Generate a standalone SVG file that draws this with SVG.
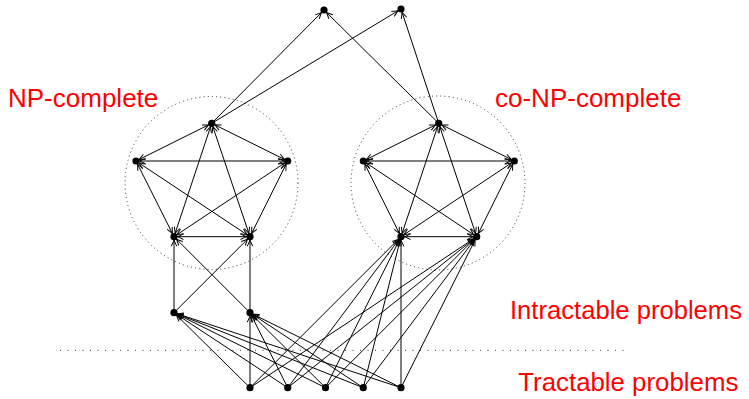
<svg xmlns="http://www.w3.org/2000/svg" width="749" height="399" viewBox="0 0 749 399">
  <style>
    .edge { stroke: #000; stroke-width: 1; fill: none; }
    .dot { fill: #000; }
    .ring { fill: none; stroke: #333; stroke-width: 1; stroke-dasharray: 1 3.2; }
    .sep { stroke: #333; stroke-width: 1; stroke-dasharray: 1 6.5; }
    .lbl { font-family: "Liberation Sans", Arial, sans-serif; font-size: 26px; fill: #ff0000; }
  </style>
  <defs>
    <marker id="arr" markerUnits="userSpaceOnUse" markerWidth="14" markerHeight="14" refX="3.6" refY="0" orient="auto-start-reverse" overflow="visible">
      <path d="M-6,-2.8 L0,0 L-6,2.8" fill="none" stroke="#000" stroke-width="1"/>
    </marker>
  </defs>

  <!-- class boundaries -->
  <g id="regions">
    <circle class="ring" cx="211.5" cy="183" r="86.5"/>
    <circle class="ring" cx="438" cy="183" r="87"/>
    <line class="sep" x1="60" y1="350.3" x2="624" y2="350.3"/>
  </g>

  <g id="connectors">
    <!-- reductions up to the two top problems -->
    <line class="edge" x1="211.7" y1="123.3" x2="324" y2="10" marker-end="url(#arr)"/>
    <line class="edge" x1="211.7" y1="123.3" x2="401" y2="9" marker-end="url(#arr)"/>
    <line class="edge" x1="438.7" y1="123.3" x2="324" y2="10" marker-end="url(#arr)"/>
    <line class="edge" x1="438.7" y1="123.3" x2="401" y2="9" marker-end="url(#arr)"/>

    <!-- NP-complete: mutual reductions -->
    <line class="edge" x1="211.7" y1="123.3" x2="136" y2="161" marker-start="url(#arr)" marker-end="url(#arr)"/>
    <line class="edge" x1="211.7" y1="123.3" x2="287.7" y2="161" marker-start="url(#arr)" marker-end="url(#arr)"/>
    <line class="edge" x1="211.7" y1="123.3" x2="174" y2="236.7" marker-start="url(#arr)" marker-end="url(#arr)"/>
    <line class="edge" x1="211.7" y1="123.3" x2="250" y2="236.7" marker-start="url(#arr)" marker-end="url(#arr)"/>
    <line class="edge" x1="136" y1="161" x2="287.7" y2="161" marker-start="url(#arr)" marker-end="url(#arr)"/>
    <line class="edge" x1="136" y1="161" x2="174" y2="236.7" marker-start="url(#arr)" marker-end="url(#arr)"/>
    <line class="edge" x1="136" y1="161" x2="250" y2="236.7" marker-start="url(#arr)" marker-end="url(#arr)"/>
    <line class="edge" x1="287.7" y1="161" x2="174" y2="236.7" marker-start="url(#arr)" marker-end="url(#arr)"/>
    <line class="edge" x1="287.7" y1="161" x2="250" y2="236.7" marker-start="url(#arr)" marker-end="url(#arr)"/>
    <line class="edge" x1="174" y1="236.7" x2="250" y2="236.7" marker-start="url(#arr)" marker-end="url(#arr)" stroke-width="1.4" stroke="#444"/>

    <!-- co-NP-complete: mutual reductions -->
    <line class="edge" x1="438.7" y1="123.3" x2="363.3" y2="161" marker-start="url(#arr)" marker-end="url(#arr)"/>
    <line class="edge" x1="438.7" y1="123.3" x2="514.3" y2="161" marker-start="url(#arr)" marker-end="url(#arr)"/>
    <line class="edge" x1="438.7" y1="123.3" x2="401" y2="236.7" marker-start="url(#arr)" marker-end="url(#arr)"/>
    <line class="edge" x1="438.7" y1="123.3" x2="476.7" y2="236.7" marker-start="url(#arr)" marker-end="url(#arr)"/>
    <line class="edge" x1="363.3" y1="161" x2="514.3" y2="161" marker-start="url(#arr)" marker-end="url(#arr)"/>
    <line class="edge" x1="363.3" y1="161" x2="401" y2="236.7" marker-start="url(#arr)" marker-end="url(#arr)"/>
    <line class="edge" x1="363.3" y1="161" x2="476.7" y2="236.7" marker-start="url(#arr)" marker-end="url(#arr)"/>
    <line class="edge" x1="514.3" y1="161" x2="401" y2="236.7" marker-start="url(#arr)" marker-end="url(#arr)"/>
    <line class="edge" x1="514.3" y1="161" x2="476.7" y2="236.7" marker-start="url(#arr)" marker-end="url(#arr)"/>
    <line class="edge" x1="401" y1="236.7" x2="476.7" y2="236.7" marker-start="url(#arr)" marker-end="url(#arr)" stroke-width="1.4" stroke="#444"/>

    <!-- intractable problems into NP-complete -->
    <line class="edge" x1="174" y1="312.7" x2="174" y2="236.7" marker-end="url(#arr)"/>
    <line class="edge" x1="174" y1="312.7" x2="250" y2="236.7" marker-end="url(#arr)"/>
    <line class="edge" x1="250" y1="312.7" x2="174" y2="236.7" marker-end="url(#arr)"/>
    <line class="edge" x1="250" y1="312.7" x2="250" y2="236.7" marker-end="url(#arr)"/>

    <!-- tractable problems into intractable and co-NP-complete -->
    <line class="edge" x1="250" y1="387.7" x2="174" y2="312.7" marker-end="url(#arr)"/>
    <line class="edge" x1="250" y1="387.7" x2="250" y2="312.7" marker-end="url(#arr)"/>
    <line class="edge" x1="250" y1="387.7" x2="401" y2="236.7" marker-end="url(#arr)"/>
    <line class="edge" x1="250" y1="387.7" x2="476.7" y2="236.7" marker-end="url(#arr)"/>

    <line class="edge" x1="287.75" y1="387.7" x2="174" y2="312.7" marker-end="url(#arr)"/>
    <line class="edge" x1="287.75" y1="387.7" x2="250" y2="312.7" marker-end="url(#arr)"/>
    <line class="edge" x1="287.75" y1="387.7" x2="401" y2="236.7" marker-end="url(#arr)"/>
    <line class="edge" x1="287.75" y1="387.7" x2="476.7" y2="236.7" marker-end="url(#arr)"/>

    <line class="edge" x1="325.5" y1="387.7" x2="174" y2="312.7" marker-end="url(#arr)"/>
    <line class="edge" x1="325.5" y1="387.7" x2="250" y2="312.7" marker-end="url(#arr)"/>
    <line class="edge" x1="325.5" y1="387.7" x2="401" y2="236.7" marker-end="url(#arr)"/>
    <line class="edge" x1="325.5" y1="387.7" x2="476.7" y2="236.7" marker-end="url(#arr)"/>

    <line class="edge" x1="363.25" y1="387.7" x2="174" y2="312.7" marker-end="url(#arr)"/>
    <line class="edge" x1="363.25" y1="387.7" x2="250" y2="312.7" marker-end="url(#arr)"/>
    <line class="edge" x1="363.25" y1="387.7" x2="401" y2="236.7" marker-end="url(#arr)"/>
    <line class="edge" x1="363.25" y1="387.7" x2="476.7" y2="236.7" marker-end="url(#arr)"/>

    <line class="edge" x1="401" y1="387.7" x2="174" y2="312.7" marker-end="url(#arr)"/>
    <line class="edge" x1="401" y1="387.7" x2="250" y2="312.7" marker-end="url(#arr)"/>
    <line class="edge" x1="401" y1="387.7" x2="401" y2="236.7" marker-end="url(#arr)"/>
    <line class="edge" x1="401" y1="387.7" x2="476.7" y2="236.7" marker-end="url(#arr)"/>
  </g>

  <!-- problems -->
  <g id="top1"><circle class="dot" cx="324" cy="10" r="3.6"/></g>
  <g id="top2"><circle class="dot" cx="401" cy="9" r="3.6"/></g>

  <g id="npc-a"><circle class="dot" cx="211.7" cy="123.3" r="3.6"/></g>
  <g id="npc-b"><circle class="dot" cx="136" cy="161" r="3.6"/></g>
  <g id="npc-c"><circle class="dot" cx="287.7" cy="161" r="3.6"/></g>
  <g id="npc-d"><circle class="dot" cx="174" cy="236.7" r="3.6"/></g>
  <g id="npc-e"><circle class="dot" cx="250" cy="236.7" r="3.6"/></g>

  <g id="conpc-a"><circle class="dot" cx="438.7" cy="123.3" r="3.6"/></g>
  <g id="conpc-b"><circle class="dot" cx="363.3" cy="161" r="3.6"/></g>
  <g id="conpc-c"><circle class="dot" cx="514.3" cy="161" r="3.6"/></g>
  <g id="conpc-d"><circle class="dot" cx="401" cy="236.7" r="3.6"/></g>
  <g id="conpc-e"><circle class="dot" cx="476.7" cy="236.7" r="3.6"/></g>

  <g id="intractable-1"><circle class="dot" cx="174" cy="312.7" r="3.6"/></g>
  <g id="intractable-2"><circle class="dot" cx="250" cy="312.7" r="3.6"/></g>

  <g id="tractable-1"><circle class="dot" cx="250" cy="387.7" r="3.6"/></g>
  <g id="tractable-2"><circle class="dot" cx="287.75" cy="387.7" r="3.6"/></g>
  <g id="tractable-3"><circle class="dot" cx="325.5" cy="387.7" r="3.6"/></g>
  <g id="tractable-4"><circle class="dot" cx="363.25" cy="387.7" r="3.6"/></g>
  <g id="tractable-5"><circle class="dot" cx="401" cy="387.7" r="3.6"/></g>

  <!-- labels -->
  <g id="labels">
    <text class="lbl" x="8" y="107.3">NP-complete</text>
    <text class="lbl" x="495" y="106.7">co-NP-complete</text>
    <text class="lbl" x="510" y="319.3" textLength="232" lengthAdjust="spacingAndGlyphs">Intractable problems</text>
    <text class="lbl" x="518.3" y="391" textLength="220" lengthAdjust="spacingAndGlyphs">Tractable problems</text>
  </g>
</svg>
